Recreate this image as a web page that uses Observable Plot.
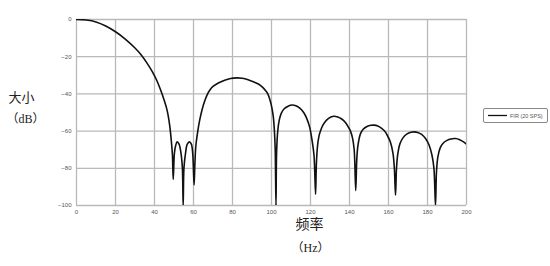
<!DOCTYPE html>
<html>
<head>
<meta charset="utf-8">
<script src="https://cdn.jsdelivr.net/npm/d3@7"></script>
<script src="https://cdn.jsdelivr.net/npm/@observablehq/plot@0.6"></script>
<style>
  html, body { margin: 0; padding: 0; background: #fff; }
</style>
</head>
<body>
<div id="chart"></div>
<script>
// Frequency (Hz) and magnitude (dB)
const freq = [
  0, 5, 10, 15, 20, 25, 30, 33, 36, 39, 41, 43, 45, 46.5, 47.8, 48.6, 49.2, 49.6,
  50.2, 50.8, 51.6, 52.6, 53.6, 54.3, 54.7,
  55.1, 55.9, 56.8, 57.9, 58.9, 59.6, 60.3,
  60.7, 61.2, 62.2, 63.2, 64.4, 65.7, 67, 68.5, 70, 73, 76, 79, 82.2, 85, 88, 91, 93.5, 95.5, 97, 98.1, 99.3, 100.3, 101, 101.5, 101.9, 102.3,
  102.6, 103.2, 104, 105, 106.5, 108.5, 110.6, 112.5, 114.5, 116.5, 118, 119.6, 120.8, 121.8, 122.6,
  123, 123.6, 124.3, 125.1, 126.5, 128.5, 130.5, 132, 134, 136, 138, 139.5, 140.5, 141.5, 142.4, 143.2,
  143.7, 144.3, 145.6, 147, 149, 151, 152.5, 154.5, 156.5, 158, 159.5, 161, 162.3, 163, 163.6,
  164.1, 164.8, 165.8, 167.5, 169.5, 171.5, 173, 175, 177, 179, 180.8, 182.3, 183.3, 184.1,
  184.6, 185.3, 186.5, 188, 190, 192, 194.4, 196.5, 198.5, 200
];
const magnitude = [
  0, -0.3, -1.3, -3.5, -6.6, -10.5, -15.3, -18.8, -23.2, -28.3, -32.4, -37.5, -43.5, -49, -57, -65, -73, -86,
  -72, -68, -65.8, -67, -72, -80, -100,
  -80, -72, -67, -65.8, -67, -72, -89,
  -78, -68, -60, -54, -48.5, -44, -40.5, -37.8, -36, -34, -32.6, -31.7, -31.4, -31.6, -32.4, -33.6, -34.8, -36.5, -38.3, -40, -43.5, -48, -53, -60, -70, -100,
  -72, -60, -54, -50.5, -48, -46.6, -46, -46.4, -47.6, -50, -53, -58, -65, -73, -94,
  -78, -68, -63, -60, -56.5, -53.8, -52.4, -52, -52.4, -53.5, -55.5, -58, -60, -63.5, -70, -92,
  -76, -68, -61.5, -59, -57.5, -56.9, -56.8, -57.2, -58.5, -60, -62.5, -66, -72, -80, -94.5,
  -80, -72, -67, -63.5, -61.5, -60.6, -60.4, -60.7, -61.8, -64, -67.5, -73, -80, -100,
  -82, -74, -69, -66.5, -65, -64.2, -64, -64.6, -65.8, -67
];
const xTicks = [0, 20, 40, 60, 80, 100, 120, 140, 160, 180, 200];
const yTicks = [0, -20, -40, -60, -80, -100];
const seriesName = "FIR (20 SPS)";
const yLabel = ["大小", "（dB）"];
const xLabel = ["频率", "（Hz）"];

const data = freq.map((f, i) => ({f, db: magnitude[i]}));

const gridStyle = {stroke: "#b9b9b9", strokeOpacity: 1, strokeWidth: 1.3};
const labelFont = "'Liberation Serif', 'Noto Sans CJK SC', serif";

const chart = Plot.plot({
  width: 550,
  height: 266,
  marginLeft: 76,
  marginRight: 84,
  marginTop: 19,
  marginBottom: 61,
  style: {background: "#fff", fontFamily: "'Liberation Sans', Arial, sans-serif"},
  x: {domain: [0, 200]},
  y: {domain: [-100, 0]},
  marks: [
    Plot.gridX(xTicks, gridStyle),
    Plot.gridY(yTicks, gridStyle),
    Plot.axisX(xTicks, {tickSize: 0, tickPadding: 4, fontSize: 6, fill: "#555", label: null}),
    Plot.axisY(yTicks, {tickSize: 0, tickPadding: 5, fontSize: 6, fill: "#555", label: null}),
    Plot.line(data, {x: "f", y: "db", curve: "catmull-rom", stroke: "#111", strokeWidth: 1.6, clip: true}),
    Plot.text([yLabel[0]], {frameAnchor: "left", dx: -55, dy: -15, fontSize: 13, fill: "#222", fontFamily: labelFont, textAnchor: "middle"}),
    Plot.text([yLabel[1]], {frameAnchor: "left", dx: -51, dy: 7, fontSize: 12, fill: "#222", fontFamily: labelFont, textAnchor: "middle"}),
    Plot.text([xLabel[0]], {frameAnchor: "bottom", dx: 38, dy: 23, fontSize: 14, fill: "#222", fontFamily: labelFont, textAnchor: "middle"}),
    Plot.text([xLabel[1]], {frameAnchor: "bottom", dx: 39, dy: 46, fontSize: 12, fill: "#222", fontFamily: labelFont, textAnchor: "middle"})
  ]
});

// Legend (drawn inside the same SVG)
const svg = d3.select(chart);
const lg = svg.append("g").attr("transform", "translate(483,108)").attr("text-anchor", "start");
lg.append("rect").attr("x", 0.5).attr("y", 0.5).attr("width", 64).attr("height", 14)
  .attr("rx", 1.5).attr("fill", "#fff").attr("stroke", "#888").attr("stroke-width", 1);
lg.append("line").attr("x1", 5).attr("x2", 24).attr("y1", 7.5).attr("y2", 7.5)
  .attr("stroke", "#111").attr("stroke-width", 1.3);
lg.append("text").attr("x", 27).attr("y", 9.5).attr("font-size", 5.5).attr("fill", "#555")
  .attr("text-anchor", "start")
  .attr("font-family", "'Liberation Sans', Arial, sans-serif").text(seriesName);

document.getElementById("chart").appendChild(chart);
</script>
</body>
</html>
